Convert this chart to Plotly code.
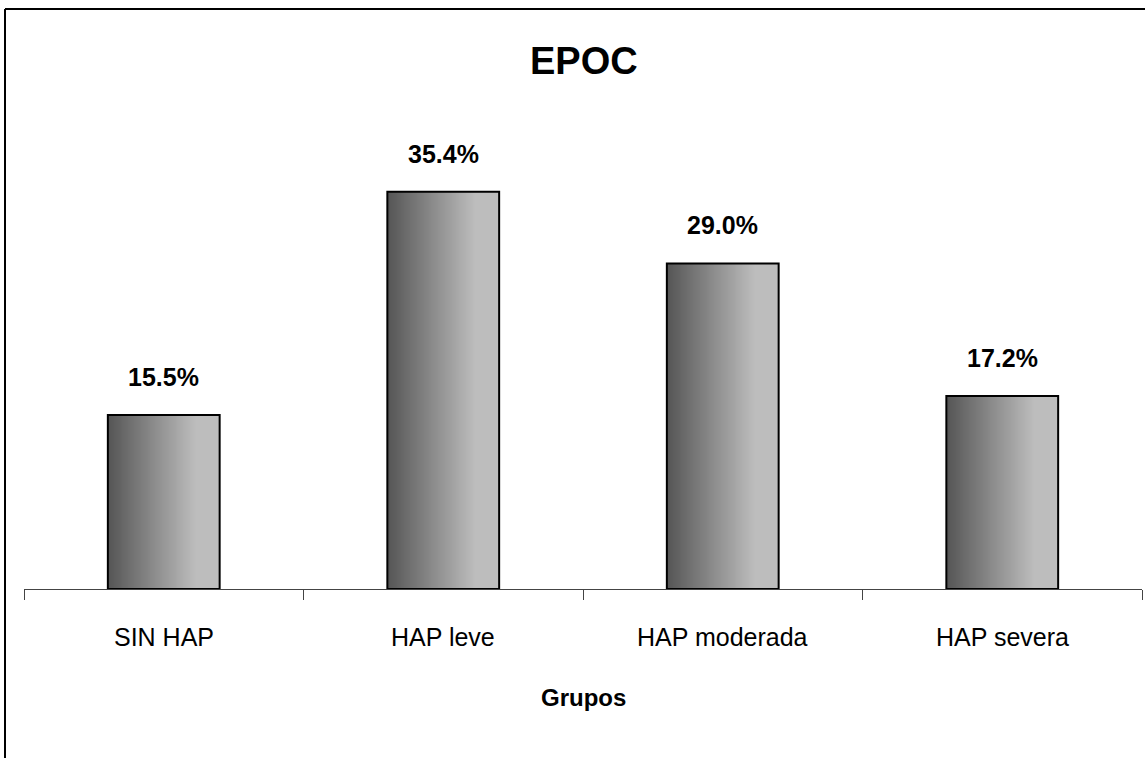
import base64, struct, zlib
import plotly.graph_objects as go

categories = ["SIN HAP", "HAP leve", "HAP moderada", "HAP severa"]
values = [15.5, 35.4, 29.0, 17.2]
value_labels = ["15.5%", "35.4%", "29.0%", "17.2%"]
title_text = "EPOC"
xaxis_title = "Grupos"

SANS = "Liberation Sans, Arial, sans-serif"


def gradient_png(width=128):
    dark, light = 0x56, 0xBD
    row = bytearray([0])
    for i in range(width):
        t = min(1.0, i / (width * 0.78))
        v = int(round(dark + (light - dark) * t))
        row += bytes([v, v, v])
    raw = bytes(row)

    def chunk(tag, data):
        c = struct.pack(">I", len(data)) + tag + data
        return c + struct.pack(">I", zlib.crc32(tag + data) & 0xFFFFFFFF)

    png = b"\x89PNG\r\n\x1a\n"
    png += chunk(b"IHDR", struct.pack(">IIBBBBB", width, 1, 8, 2, 0, 0, 0))
    png += chunk(b"IDAT", zlib.compress(raw))
    png += chunk(b"IEND", b"")
    return "data:image/png;base64," + base64.b64encode(png).decode()


grad = gradient_png()
idx = list(range(len(categories)))
bar_w = 0.4

fig = go.Figure()
fig.add_trace(go.Bar(
    x=idx, y=values, width=bar_w,
    marker=dict(color="rgba(0,0,0,0)", line=dict(color="black", width=2)),
    hoverinfo="skip",
))

images = []
for i, v in zip(idx, values):
    images.append(dict(
        source=grad, xref="x", yref="y", x=i - bar_w / 2, y=v,
        sizex=bar_w, sizey=v, sizing="stretch", xanchor="left", yanchor="top",
        layer="below",
    ))

annotations = []
for i, v, lab in zip(idx, values, value_labels):
    annotations.append(dict(
        x=i, y=v, text="<b>" + lab + "</b>", showarrow=False, xref="x", yref="y",
        yanchor="bottom", yshift=22, font=dict(family=SANS, size=25, color="black"),
    ))
for i, c in zip(idx, categories):
    annotations.append(dict(
        x=i, y=0, text=c, showarrow=False, xref="x", yref="y",
        yanchor="top", yshift=-32, font=dict(family=SANS, size=25, color="black"),
    ))
annotations.append(dict(
    x=0.5, y=0, xref="paper", yref="y", text="<b>" + xaxis_title + "</b>", showarrow=False,
    yanchor="top", yshift=-93, font=dict(family=SANS, size=24, color="black"),
))
annotations.append(dict(
    x=0.5, y=1, xref="paper", yref="paper", text="<b>" + title_text + "</b>",
    showarrow=False, yanchor="middle", yshift=79, xshift=1,
    font=dict(family=SANS, size=38, color="black"),
))

L, R, T, B = 24, 3, 140, 169
W, H = 1145, 758
pw, ph = W - L - R, H - T - B
px0 = (5 - L) / pw
py_top = 1 + (T - 9) / ph
py_bot = -(H - T - ph) / ph - 0.1

fig.update_layout(
    width=W, height=H,
    margin=dict(l=L, r=R, t=T, b=B),
    paper_bgcolor="white", plot_bgcolor="white",
    showlegend=False,
    images=images,
    annotations=annotations,
    xaxis=dict(
        range=[-0.5, 3.5], showgrid=False, zeroline=False,
        tickvals=idx, ticktext=["" for _ in idx], ticks="",
        showline=True, linecolor="#444", linewidth=1,
        minor=dict(tickvals=[-0.5, 0.5, 1.5, 2.5, 3.5], ticks="outside", ticklen=10,
                   tickcolor="#444", tickwidth=1, showgrid=False),
    ),
    yaxis=dict(range=[0, 40], showgrid=False, zeroline=False, showticklabels=False,
               ticks="", showline=False),
    shapes=[
        dict(type="line", xref="paper", yref="paper", x0=px0, x1=1.2, y0=py_top, y1=py_top,
             line=dict(color="black", width=2)),
        dict(type="line", xref="paper", yref="paper", x0=px0, x1=px0, y0=py_top, y1=py_bot,
             line=dict(color="black", width=2)),
    ],
)

fig.write_html(
    "out.html",
    config={"displayModeBar": False},
    post_script="document.body.style.margin='0';document.body.style.overflow='hidden';",
)
